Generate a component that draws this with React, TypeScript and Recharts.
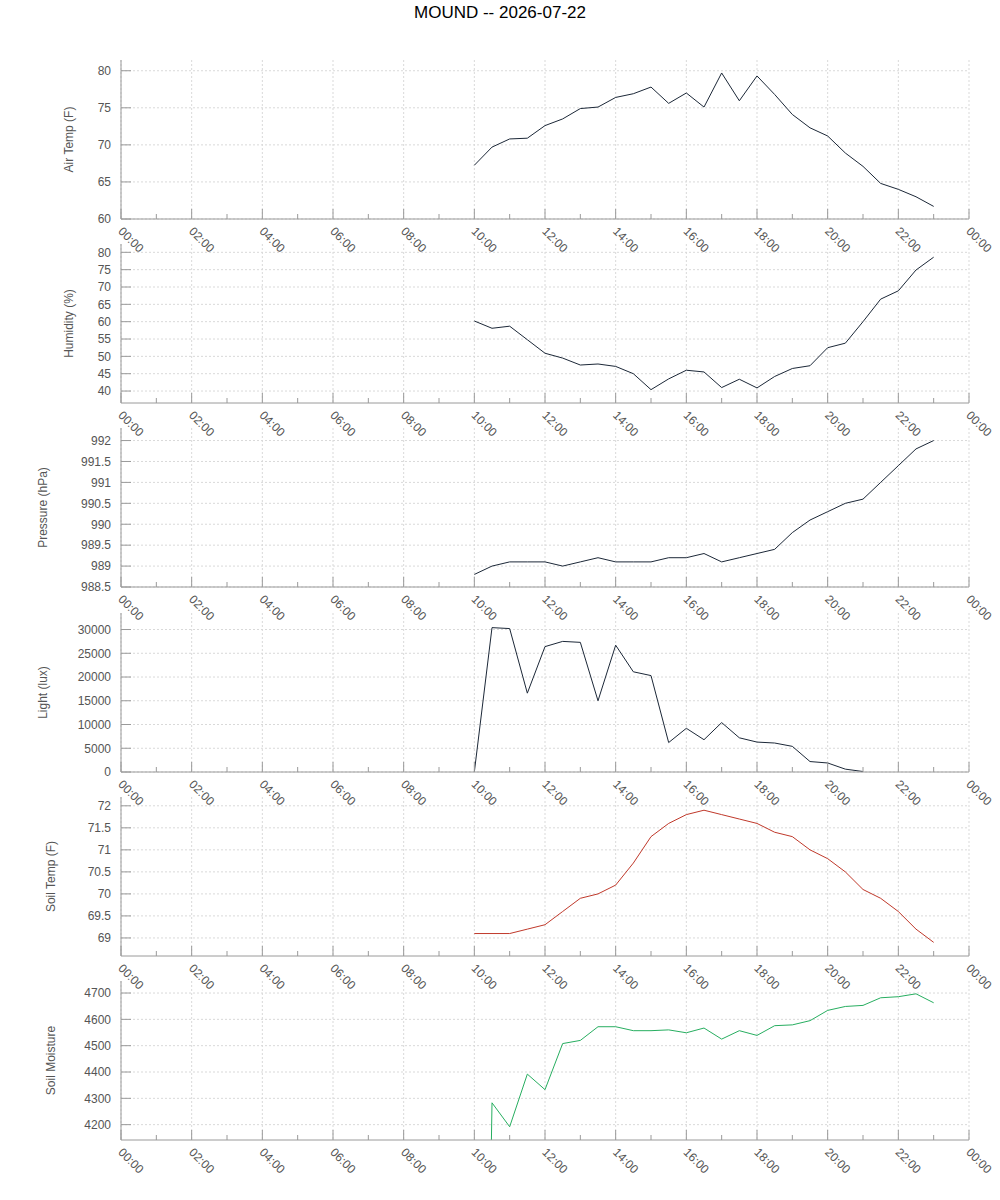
import React from 'react';
import { LineChart, Line, XAxis, YAxis, CartesianGrid } from 'recharts';

const title = 'MOUND -- 2026-07-22';

const times = [
  '10:00', '10:30', '11:00', '11:30', '12:00', '12:30', '13:00', '13:30', '14:00',
  '14:30', '15:00', '15:30', '16:00', '16:30', '17:00', '17:30', '18:00', '18:30',
  '19:00', '19:30', '20:00', '20:30', '21:00', '21:30', '22:00', '22:30', '23:00',
];

const airTemp = [
  67.25, 69.7, 70.8, 70.9, 72.6, 73.5, 74.9, 75.1, 76.4, 76.9, 77.8, 75.6, 77.0, 75.1,
  79.7, 75.95, 79.3, 76.8, 74.1, 72.3, 71.2, 68.9, 67.1, 64.8, 64.0, 63.0, 61.7,
];

const humidity = [
  60.2, 58.1, 58.7, 54.8, 50.9, 49.5, 47.5, 47.8, 47.1, 45.0, 40.4, 43.5, 46.0, 45.5,
  41.0, 43.4, 40.9, 44.2, 46.5, 47.3, 52.5, 53.8, 60.0, 66.5, 68.9, 74.9, 78.6,
];

const pressure = [
  988.8, 989.0, 989.1, 989.1, 989.1, 989.0, 989.1, 989.2, 989.1, 989.1, 989.1, 989.2,
  989.2, 989.3, 989.1, 989.2, 989.3, 989.4, 989.8, 990.1, 990.3, 990.5, 990.6, 991.0,
  991.4, 991.8, 992.0,
];

const light = [
  0, 30400, 30200, 16600, 26400, 27500, 27300, 15000, 26700, 21100, 20300, 6200, 9200,
  6800, 10400, 7200, 6300, 6100, 5400, 2200, 1900, 600, 100, null, null, null, null,
];

const soilTemp = [
  69.1, 69.1, 69.1, 69.2, 69.3, 69.6, 69.9, 70.0, 70.2, 70.7, 71.3, 71.6, 71.8, 71.9,
  71.8, 71.7, 71.6, 71.4, 71.3, 71.0, 70.8, 70.5, 70.1, 69.9, 69.6, 69.2, 68.9,
];

const soilMoisture = [
  0, 4283, 4192, 4392, 4333, 4508, 4520, 4572, 4572, 4557, 4557, 4560, 4549, 4567,
  4525, 4557, 4539, 4576, 4579, 4595, 4634, 4649, 4653, 4682, 4686, 4697, 4663,
];

const hourTicks = [0, 1, 2, 3, 4, 5, 6, 7, 8, 9, 10, 11, 12, 13, 14, 15, 16, 17, 18, 19, 20, 21, 22, 23, 24];
const gridHours = [0, 2, 4, 6, 8, 10, 12, 14, 16, 18, 20, 22, 24];
const hourLabels = [
  '00:00', '02:00', '04:00', '06:00', '08:00', '10:00', '12:00',
  '14:00', '16:00', '18:00', '20:00', '22:00', '00:00',
];

const airTempTicks = [60, 65, 70, 75, 80];
const humidityTicks = [40, 45, 50, 55, 60, 65, 70, 75, 80];
const pressureTicks = [988.5, 989, 989.5, 990, 990.5, 991, 991.5, 992];
const lightTicks = [0, 5000, 10000, 15000, 20000, 25000, 30000];
const soilTempTicks = [69, 69.5, 70, 70.5, 71, 71.5, 72];
const soilMoistureTicks = [4200, 4300, 4400, 4500, 4600, 4700];

const toHours = (t: string) => {
  const [h, m] = t.split(':').map(Number);
  return h + m / 60;
};

const rows = times.map((t, i) => ({
  h: toHours(t),
  airTemp: airTemp[i],
  humidity: humidity[i],
  pressure: pressure[i],
  light: light[i],
  soilTemp: soilTemp[i],
  soilMoisture: soilMoisture[i],
}));

const FONT = '"Liberation Sans", Arial, Helvetica, sans-serif';
const AXIS = '#9a9a9a';
const TEXT = '#555555';
const GRID = '#d9d9d9';
const DARK = '#1c2838';

const PANEL_H = 159;
const PAD_TOP = 10;
const XAXIS_H = 50;

const panels = [
  { key: 'airTemp', label: 'Air Temp (F)', domain: [60, 81.45], ticks: airTempTicks, color: DARK, top: 60, labelX: 69 },
  { key: 'humidity', label: 'Humidity (%)', domain: [36.55, 82.4], ticks: humidityTicks, color: DARK, top: 244, labelX: 69 },
  { key: 'pressure', label: 'Pressure (hPa)', domain: [988.5, 992.3], ticks: pressureTicks, color: DARK, top: 428, labelX: 42.5 },
  { key: 'light', label: 'Light (lux)', domain: [0, 33480], ticks: lightTicks, color: DARK, top: 613, labelX: 42.5 },
  { key: 'soilTemp', label: 'Soil Temp (F)', domain: [68.59, 72.2], ticks: soilTempTicks, color: '#c0392b', top: 797, labelX: 51 },
  { key: 'soilMoisture', label: 'Soil Moisture', domain: [4141.7, 4745.7], ticks: soilMoistureTicks, color: '#27ae60', top: 981, labelX: 51 },
];

const BottomTick = (props: any) => {
  const { x, y, payload } = props;
  const v = payload.value;
  const major = v % 2 === 0;
  const lx = x - 3.5;
  const ly = y + 13;
  return (
    <g>
      <line x1={x} y1={y} x2={x} y2={y - (major ? 10 : 5)} stroke={AXIS} />
      {major && (
        <text
          x={lx}
          y={ly}
          transform={`rotate(45 ${lx} ${ly})`}
          fill={TEXT}
          fontSize={12}
          fontFamily={FONT}
          textAnchor="start"
        >
          {hourLabels[v / 2]}
        </text>
      )}
    </g>
  );
};

const TopTick = (props: any) => {
  const { x, y, payload } = props;
  const major = payload.value % 2 === 0;
  return <line x1={x} y1={y} x2={x} y2={y + (major ? 10 : 5)} stroke={AXIS} />;
};

const LeftTick = (props: any) => {
  const { x, y, payload } = props;
  return (
    <g>
      <line x1={x} y1={y} x2={x + 10} y2={y} stroke={AXIS} />
      <text x={x - 10} y={y + 4.3} textAnchor="end" fill={TEXT} fontSize={12} fontFamily={FONT}>
        {String(payload.value)}
      </text>
    </g>
  );
};

const RightTick = (props: any) => {
  const { x, y } = props;
  return <line x1={x} y1={y} x2={x - 10} y2={y} stroke={AXIS} />;
};

function Panel({ p }: { p: (typeof panels)[number] }) {
  return (
    <div style={{ position: 'absolute', left: 0, top: p.top - PAD_TOP }}>
      <LineChart
        width={1000}
        height={PAD_TOP + PANEL_H + XAXIS_H}
        data={rows}
        margin={{ top: PAD_TOP, right: 31, bottom: 0, left: 0 }}
      >
        <CartesianGrid
          stroke={GRID}
          strokeDasharray="2 2"
          verticalValues={gridHours}
          horizontalValues={p.ticks}
        />
        <XAxis
          dataKey="h"
          type="number"
          domain={[0, 24]}
          ticks={hourTicks}
          interval={0}
          allowDataOverflow
          height={XAXIS_H}
          tickSize={0}
          tickMargin={0}
          tickLine={false}
          axisLine={{ stroke: AXIS }}
          tick={<BottomTick />}
        />
        <XAxis
          xAxisId="top"
          orientation="top"
          dataKey="h"
          type="number"
          domain={[0, 24]}
          ticks={hourTicks}
          interval={0}
          allowDataOverflow
          height={0}
          tickSize={0}
          tickMargin={0}
          tickLine={false}
          axisLine={{ stroke: AXIS }}
          tick={<TopTick />}
        />
        <YAxis
          type="number"
          domain={p.domain}
          ticks={p.ticks}
          interval={0}
          allowDataOverflow
          width={121}
          tickSize={0}
          tickMargin={0}
          tickLine={false}
          axisLine={{ stroke: AXIS }}
          tick={<LeftTick />}
          label={{
            value: p.label,
            angle: -90,
            position: 'insideLeft',
            offset: p.labelX,
            fill: TEXT,
            fontSize: 12,
            fontFamily: FONT,
            style: { textAnchor: 'middle' },
          }}
        />
        <YAxis
          yAxisId="r"
          orientation="right"
          type="number"
          domain={p.domain}
          ticks={p.ticks}
          interval={0}
          allowDataOverflow
          width={0}
          tickSize={0}
          tickMargin={0}
          tickLine={false}
          axisLine={{ stroke: AXIS }}
          tick={<RightTick />}
        />
        <Line
          type="linear"
          dataKey={p.key}
          stroke={p.color}
          strokeWidth={1}
          dot={false}
          activeDot={false}
          connectNulls={false}
          isAnimationActive={false}
        />
      </LineChart>
    </div>
  );
}

export default function App() {
  return (
    <div
      style={{
        position: 'absolute',
        left: 0,
        top: 0,
        width: 1000,
        height: 1200,
        background: '#ffffff',
        fontFamily: FONT,
      }}
    >
      <svg width={1000} height={30} style={{ position: 'absolute', left: 0, top: 0 }}>
        <text x={500} y={18} textAnchor="middle" fontSize={17} fontFamily={FONT} fill="#000000">
          {title}
        </text>
      </svg>
      {panels.map((p) => (
        <Panel key={p.key} p={p} />
      ))}
    </div>
  );
}
